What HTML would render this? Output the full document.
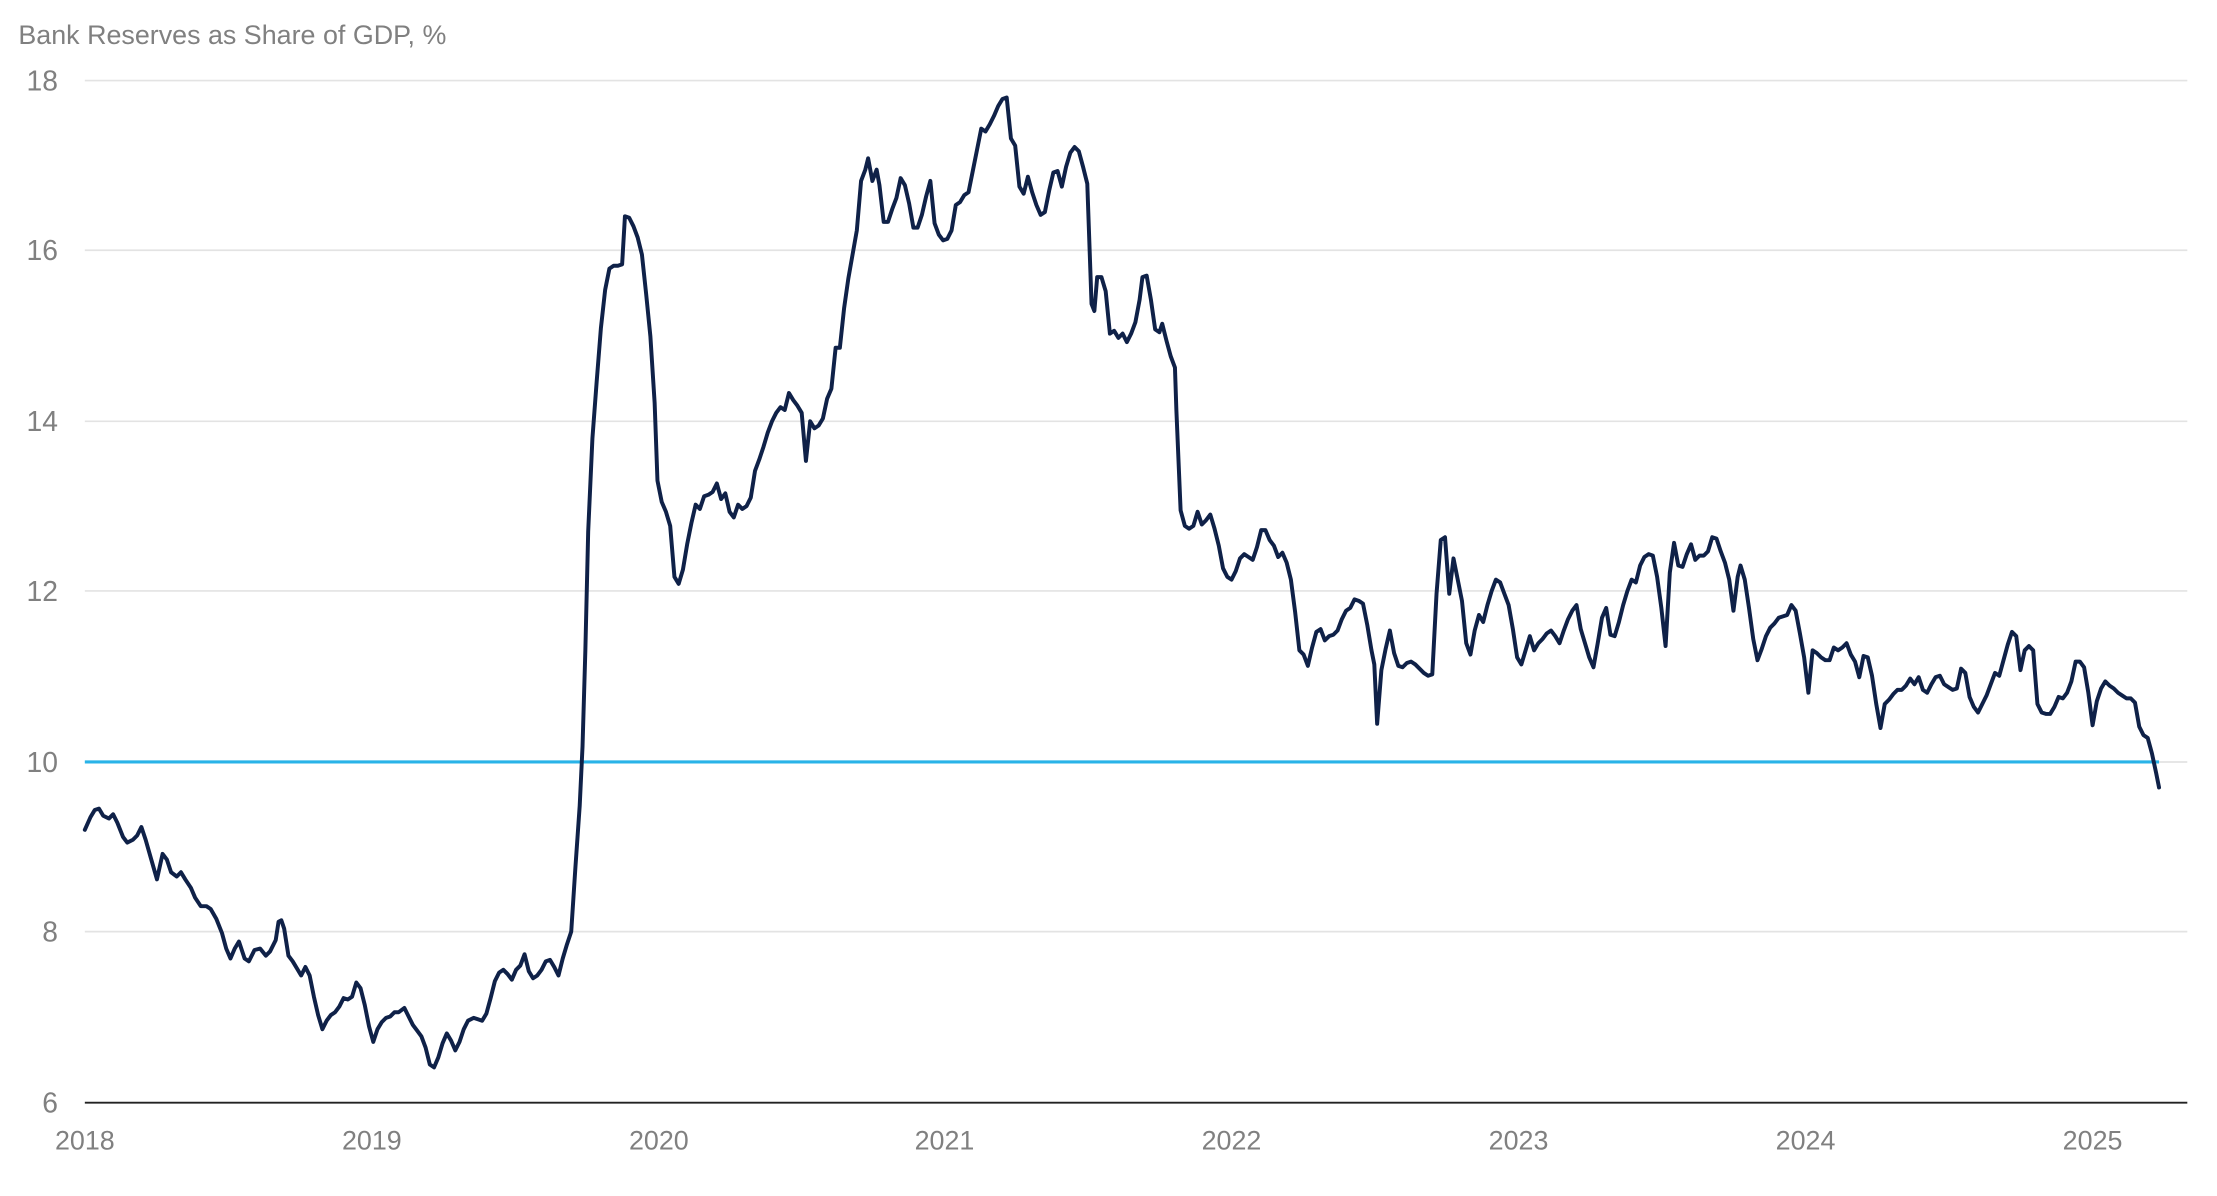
<!DOCTYPE html>
<html><head><meta charset="utf-8"><style>
html,body{margin:0;padding:0;background:#fff;}
svg{display:block;}
text{font-family:"Liberation Sans",sans-serif;fill:#808080;}
</style></head><body>
<svg width="2217" height="1196" viewBox="0 0 1568 846" preserveAspectRatio="none" xmlns="http://www.w3.org/2000/svg">
<text x="13" y="31" font-size="19">Bank Reserves as Share of GDP, %</text>
<g stroke="#e3e3e3" stroke-width="1.2">
<line x1="60" y1="57" x2="1547" y2="57"/>
<line x1="60" y1="177" x2="1547" y2="177"/>
<line x1="60" y1="298" x2="1547" y2="298"/>
<line x1="60" y1="418" x2="1547" y2="418"/>
<line x1="60" y1="539" x2="1547" y2="539"/>
<line x1="60" y1="659" x2="1547" y2="659"/>
</g>
<line x1="60" y1="780" x2="1547" y2="780" stroke="#222" stroke-width="1.4"/>
<g font-size="20" text-anchor="end">
<text x="41" y="64">18</text>
<text x="41" y="184">16</text>
<text x="41" y="305">14</text>
<text x="41" y="425">12</text>
<text x="41" y="546">10</text>
<text x="41" y="666">8</text>
<text x="41" y="787">6</text>
</g>
<g font-size="19" text-anchor="middle">
<text x="60" y="813">2018</text>
<text x="263" y="813">2019</text>
<text x="466" y="813">2020</text>
<text x="668" y="813">2021</text>
<text x="871" y="813">2022</text>
<text x="1074" y="813">2023</text>
<text x="1277" y="813">2024</text>
<text x="1480" y="813">2025</text>
</g>
<line x1="60" y1="539" x2="1527" y2="539" stroke="#29b3e8" stroke-width="2.2"/>
<polyline fill="none" stroke="#0f2148" stroke-width="2.8" stroke-linejoin="round" stroke-linecap="round" points="60,587 64,578 67,573 70,572 73,577 77,579 80,576 83,582 87,592 90,596 94,594 97,591 100,585 103,594 107,608 111,622 115,604 118,608 121,617 125,620 128,617 131,622 135,628 138,635 142,641 146,641 149,643 153,650 157,660 160,671 163,678 166,671 169,666 173,678 176,680 180,672 184,671 188,676 191,673 195,665 197,652 199,651 201,657 204,676 207,680 210,685 213,690 216,684 219,690 222,705 225,718 228,728 231,722 234,718 237,716 240,712 243,706 246,707 249,705 252,695 255,699 258,711 261,726 264,737 267,728 270,723 273,720 276,719 279,716 282,716 286,713 289,719 292,725 295,729 298,733 301,741 304,753 307,755 310,748 313,738 316,731 319,736 322,743 325,737 328,728 331,722 335,720 338,721 341,722 344,717 347,706 350,694 353,688 356,686 359,689 362,693 365,686 368,683 371,675 374,687 377,692 380,690 383,686 386,680 389,679 392,684 395,690 398,678 401,668 404,659 407,613 410,570 412,528 414,460 416,376 419,310 422,270 425,232 428,205 431,190 434,188 437,188 440,187 442,153 445,154 448,160 451,168 454,180 457,208 460,238 463,285 465,340 468,355 471,362 474,372 477,408 480,413 483,403 486,385 489,370 492,357 495,360 498,351 501,350 504,348 507,342 510,353 513,349 516,362 519,366 522,357 525,360 528,358 531,352 534,333 537,325 540,316 543,306 546,298 549,292 552,288 555,290 558,278 561,283 564,287 567,292 570,326 573,298 576,303 579,301 582,296 585,282 588,275 591,246 594,246 597,218 600,197 603,180 606,163 609,128 612,120 614,112 617,128 620,120 622,131 625,157 628,157 631,148 634,140 637,126 640,131 643,144 646,161 649,161 652,152 655,139 658,128 661,158 664,166 667,170 670,169 673,163 676,145 679,143 682,138 685,136 688,121 691,106 694,91 697,93 700,88 703,82 706,75 709,70 712,69 715,98 718,103 721,132 724,137 727,125 730,136 733,145 736,152 739,150 742,135 745,122 748,121 751,132 754,118 757,108 760,104 763,107 766,118 769,130 772,215 774,220 776,196 779,196 782,206 785,236 788,234 791,239 794,236 797,242 800,236 803,228 806,212 808,196 811,195 814,212 817,233 820,235 822,229 825,241 828,252 831,260 832,290 835,361 838,372 841,374 844,372 847,362 850,371 853,368 856,364 859,374 862,386 865,402 868,408 871,410 874,404 877,395 880,392 883,394 886,396 889,387 892,375 895,375 898,382 901,386 904,394 907,391 910,398 913,410 916,433 919,460 922,463 925,471 928,458 931,447 934,445 937,453 940,450 943,449 946,446 949,438 952,432 955,430 958,424 961,425 964,427 967,442 970,460 972,470 974,512 977,474 980,459 983,446 986,462 989,471 992,472 995,469 998,468 1001,470 1004,473 1007,476 1010,478 1013,477 1016,420 1019,382 1022,380 1025,420 1028,395 1031,410 1034,425 1037,455 1040,463 1043,446 1046,435 1049,440 1052,428 1055,418 1058,410 1061,412 1064,420 1067,428 1070,445 1073,465 1076,470 1079,460 1082,450 1085,460 1088,455 1091,452 1094,448 1097,446 1100,450 1103,455 1106,446 1109,438 1112,432 1115,428 1118,445 1121,455 1124,465 1127,472 1130,455 1133,437 1136,430 1139,449 1142,450 1145,440 1148,428 1151,418 1154,410 1157,412 1160,400 1163,394 1166,392 1169,393 1172,408 1175,430 1178,457 1181,405 1184,384 1187,400 1190,401 1193,392 1196,385 1199,396 1202,393 1205,393 1208,390 1211,380 1214,381 1217,390 1220,398 1223,410 1226,432 1229,408 1231,400 1234,410 1237,430 1240,452 1243,467 1246,459 1249,450 1252,444 1255,441 1258,437 1261,436 1264,435 1267,428 1270,432 1273,448 1276,465 1279,490 1282,460 1285,462 1288,465 1291,467 1294,467 1297,458 1300,460 1303,458 1306,455 1309,463 1312,468 1315,479 1318,464 1321,465 1324,478 1327,498 1330,515 1333,498 1336,495 1339,491 1342,488 1345,488 1348,485 1351,480 1354,484 1357,479 1360,488 1363,490 1366,484 1369,479 1372,478 1375,484 1378,486 1381,488 1384,487 1387,473 1390,476 1393,493 1396,500 1399,504 1402,498 1405,492 1408,484 1411,476 1414,478 1417,467 1420,456 1423,447 1426,450 1429,474 1432,460 1435,457 1438,460 1441,498 1444,504 1447,505 1450,505 1453,500 1456,493 1459,494 1462,490 1465,482 1468,468 1471,468 1474,472 1477,490 1480,513 1483,496 1486,487 1489,482 1492,485 1495,487 1498,490 1501,492 1504,494 1507,494 1510,497 1513,514 1516,520 1519,522 1522,533 1525,547 1527,557"/>
</svg>
</body></html>
